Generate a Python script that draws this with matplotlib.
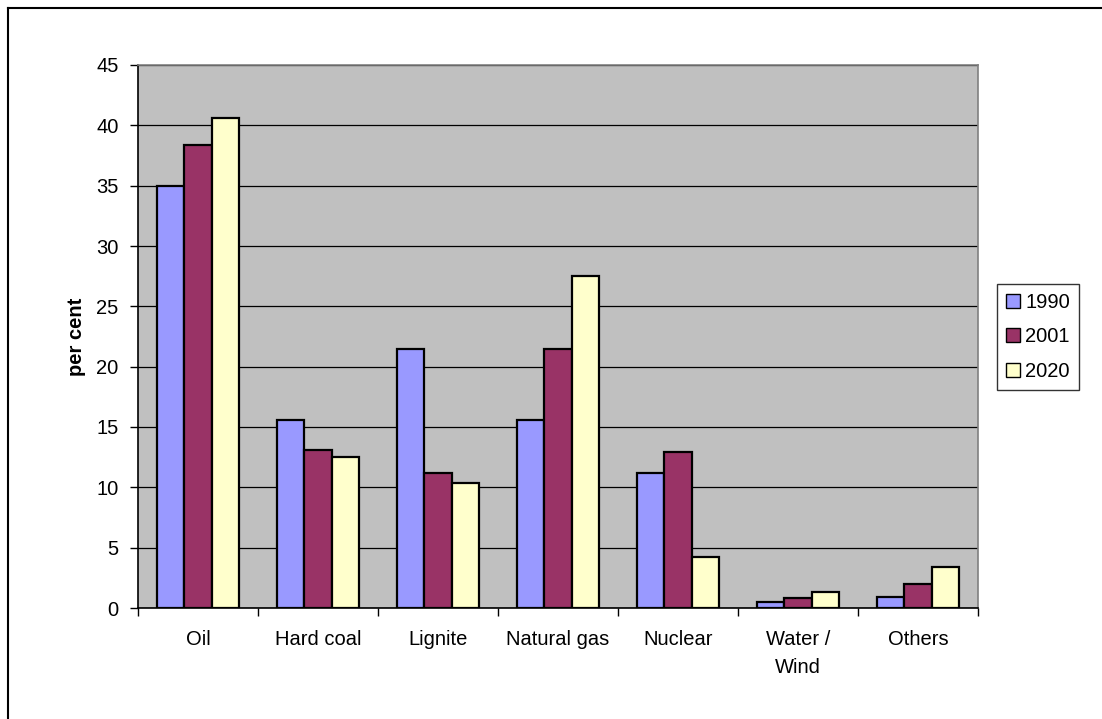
import numpy as np
import matplotlib.pyplot as plt
from matplotlib.lines import Line2D

plt.rcParams['font.family'] = ['Liberation Sans', 'DejaVu Sans']

# Share of primary energy consumption, per cent
categories = ['Oil', 'Hard coal', 'Lignite', 'Natural gas', 'Nuclear', 'Water /\nWind', 'Others']
years = ['1990', '2001', '2020']
share_1990 = [35.0, 15.6, 21.5, 15.6, 11.2, 0.5, 0.9]
share_2001 = [38.4, 13.1, 11.2, 21.5, 12.9, 0.8, 2.0]
share_2020 = [40.6, 12.5, 10.4, 27.5, 4.2, 1.3, 3.4]
colors = ['#9999FF', '#993366', '#FFFFCC']

W, H = 1102, 719
fs = 14.5
fig = plt.figure(figsize=(W / 100, H / 100), dpi=100)
ax = fig.add_axes([138 / W, 1 - 608 / H, 840 / W, 543 / H])

x = np.arange(len(categories))
bw = 0.227
for i, (vals, c, lab) in enumerate(zip([share_1990, share_2001, share_2020], colors, years)):
    ax.bar(x + (i - 1) * bw, vals, bw, color=c, edgecolor='black', linewidth=1.6,
           label=lab, zorder=3)

ax.set_facecolor('#C0C0C0')
ax.set_xlim(-0.5, len(categories) - 0.5)
ax.set_ylim(0, 45)
ax.set_yticks(np.arange(0, 46, 5))
ax.yaxis.grid(True, color='black', linewidth=0.9, zorder=1)
ax.set_axisbelow(True)

# category ticks sit between groups, labels sit under the groups
ax.set_xticks(np.arange(-0.5, len(categories)), minor=False)
ax.set_xticklabels([])
ax.set_xticks(x, minor=True)
ax.set_xticklabels(categories, minor=True, fontsize=fs, linespacing=1.6)
ax.tick_params(axis='x', which='minor', length=0, pad=16)
ax.tick_params(axis='x', which='major', direction='out', length=6, width=1)
ax.tick_params(axis='y', direction='out', length=6, width=1, labelsize=fs, pad=8)

ax.spines['left'].set_linewidth(1.2)
ax.spines['bottom'].set_linewidth(1.2)
ax.spines['top'].set_color('#808080')
ax.spines['right'].set_color('#808080')
ax.spines['top'].set_linewidth(1.2)
ax.spines['right'].set_linewidth(1.2)

ax.set_ylabel('per cent', fontsize=fs, fontweight='bold', labelpad=7)

leg = ax.legend(loc='center left', bbox_to_anchor=(997 / W, 1 - 337 / H),
                bbox_transform=fig.transFigure, fontsize=fs, frameon=True,
                fancybox=False, edgecolor='black', handlelength=0.7,
                handleheight=0.7, handletextpad=0.25, labelspacing=0.78,
                borderpad=0.45, borderaxespad=0)
leg.get_frame().set_linewidth(1.0)
for p in leg.get_patches():
    p.set_linewidth(1.0)

# outer chart frame
fig.add_artist(Line2D([8 / W, 8 / W], [0, 1 - 8 / H], transform=fig.transFigure,
                      color='black', linewidth=1.5))
fig.add_artist(Line2D([8 / W, 1], [1 - 8 / H, 1 - 8 / H], transform=fig.transFigure,
                      color='black', linewidth=1.5))

fig.savefig('out.png', dpi=100)
